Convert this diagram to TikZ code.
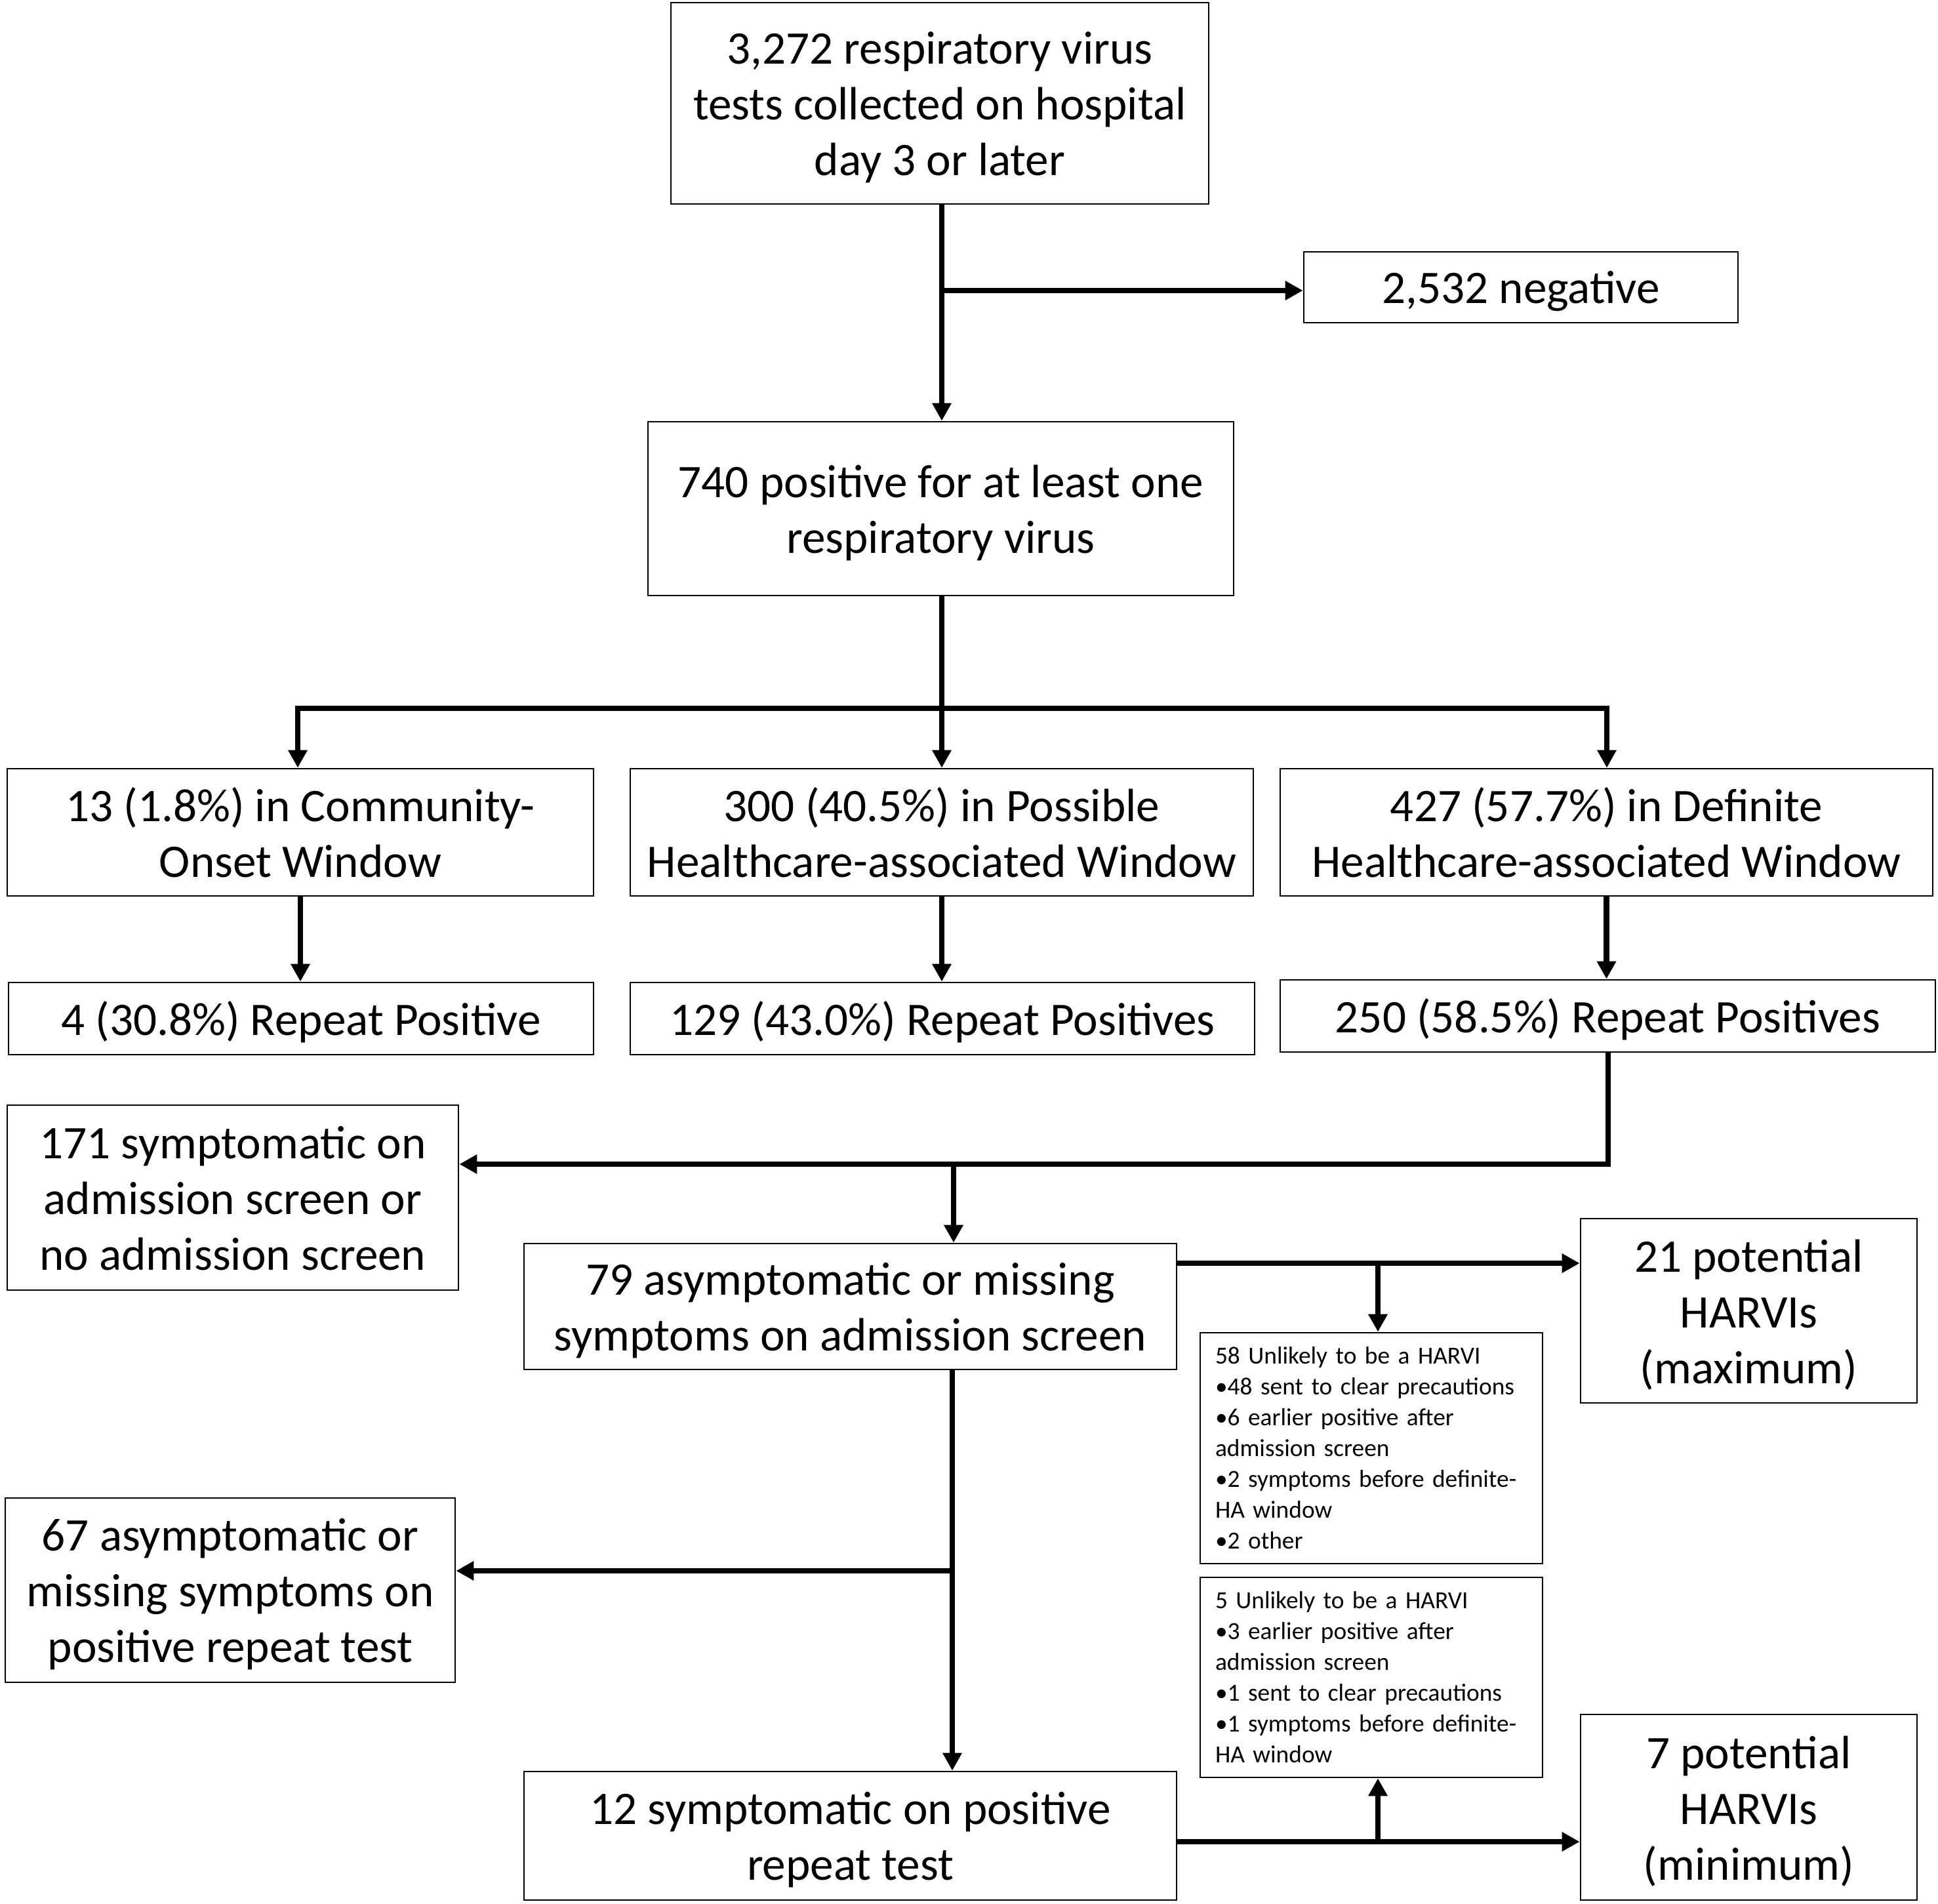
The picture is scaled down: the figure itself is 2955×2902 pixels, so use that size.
\documentclass[tikz,border=0pt]{standalone}
\usepackage{fontspec}
\setmainfont{Carlito}
\usetikzlibrary{arrows.meta}
\newcommand\ph{\vphantom{(}}
\newcommand\pt{\raisebox{0pt}[\dimexpr\height+2.4pt\relax]{\vphantom{(}}}
\begin{document}
\begin{tikzpicture}[x=0.25pt,y=-0.25pt,
  box/.style={draw, line width=0.7pt, inner sep=0pt, align=center, font=\fontsize{17.8}{21.25}\selectfont},
  note/.style={draw, line width=0.7pt, inner xsep=5.75pt, inner ysep=0pt, text width=119pt, align=left, font=\fontsize{9.35}{11.75}\selectfont},
  conn/.style={line width=2.1pt},
  arr/.style={conn, -{Triangle[length=6.75pt,width=7pt]}}]
\useasboundingbox (0,0) rectangle (2955,2902);

\node[box, minimum width=205pt, minimum height=76.75pt] (top) at (1433,157.5) {\pt3,272 respiratory virus\\tests collected on hospital\\\ph day 3 or later};
\node[box, minimum width=165.5pt, minimum height=27pt] (neg) at (2319,438) {\pt\ph2,532 negative};
\node[box, minimum width=223.25pt, minimum height=66.25pt] (pos) at (1434.5,775.5) {\pt740 positive for at least one\\\ph respiratory virus};
\node[box, minimum width=223.5pt, minimum height=48.5pt] (co) at (458,1269) {\pt13 (1.8\%) in Community-\\\ph Onset Window};
\node[box, minimum width=237.5pt, minimum height=48.5pt] (poss) at (1436,1269) {\pt300 (40.5\%) in Possible\\\ph Healthcare-associated Window};
\node[box, minimum width=248.75pt, minimum height=48.5pt] (def) at (2449.5,1269) {\pt427 (57.7\%) in Definite\\\ph Healthcare-associated Window};
\node[box, minimum width=223pt, minimum height=27.5pt] (rpa) at (459,1553) {\pt\ph4 (30.8\%) Repeat Positive};
\node[box, minimum width=238pt, minimum height=27.5pt] (rpb) at (1437,1553) {\pt\ph129 (43.0\%) Repeat Positives};
\node[box, minimum width=249.75pt, minimum height=27.5pt] (rpc) at (2451.5,1549) {\pt\ph250 (58.5\%) Repeat Positives};
\node[box, minimum width=172pt, minimum height=70.5pt] (s171) at (355,1826) {\pt171 symptomatic on\\admission screen or\\\ph no admission screen};
\node[box, minimum width=248.75pt, minimum height=48pt] (a79) at (1296.5,1992) {\pt79 asymptomatic or missing\\\ph symptoms on admission screen};
\node[box, minimum width=128.25pt, minimum height=70.25pt] (p21) at (2666.5,1998.5) {\pt21 potential\\HARVIs\\\ph(maximum)};
\node[note, minimum height=88pt] (u58) at (2091,2208) {58 Unlikely to be a HARVI\\\textbullet48 sent to clear precautions\\\textbullet6 earlier positive after\\admission screen\\\textbullet2 symptoms before definite-\\HA window\\\textbullet2 other};
\node[box, minimum width=171.5pt, minimum height=70.25pt] (a67) at (351,2424.5) {\pt67 asymptomatic or\\missing symptoms on\\\ph positive repeat test};
\node[note, minimum height=76.25pt] (u5) at (2091,2557.5) {5 Unlikely to be a HARVI\\\textbullet3 earlier positive after\\admission screen\\\textbullet1 sent to clear precautions\\\textbullet1 symptoms before definite-\\HA window};
\node[box, minimum width=248.75pt, minimum height=49pt] (s12) at (1296.5,2799) {\pt12 symptomatic on positive\\\ph repeat test};
\node[box, minimum width=128.25pt, minimum height=70.75pt] (p7) at (2666.5,2755.5) {\pt7 potential\\HARVIs\\\ph(minimum)};

\coordinate (c1) at (1436,443);
\draw[conn] (c1 |- top.south) -- (c1);
\draw[arr] (c1) -- (c1 |- pos.north);
\draw[arr] (c1) -- (c1 -| neg.west);

\coordinate (c2) at (1436,1080);
\coordinate (cL) at (454,1080);
\coordinate (cR) at (2450,1080);
\draw[conn] (c2 |- pos.south) -- (c2);
\draw[conn, line cap=rect] (cL) -- (cR);
\draw[arr] (cL) -- (cL |- co.north);
\draw[arr] (c2) -- (c2 |- poss.north);
\draw[arr] (cR) -- (cR |- def.north);

\draw[arr] (co.south) -- (co.south |- rpa.north);
\draw[arr] (poss.south) -- (poss.south |- rpb.north);
\draw[arr] (def.south) -- (def.south |- rpc.north);

\coordinate (c3) at (2452,1775);
\coordinate (c4) at (1454,1775);
\draw[arr, line join=miter] (c3 |- rpc.south) -- (c3) -- (c3 -| s171.east);
\draw[arr] (c4) -- (c4 |- a79.north);

\coordinate (c5) at (2101,1926);
\draw[arr] (c5 -| a79.east) -- (c5 -| p21.west);
\draw[arr] (c5) -- (c5 |- u58.north);

\coordinate (c6) at (1452,2395);
\draw[arr] (c6 |- a79.south) -- (c6 |- s12.north);
\draw[arr] (c6) -- (c6 -| a67.east);

\coordinate (c7) at (2101,2808);
\draw[arr] (c7 -| s12.east) -- (c7 -| p7.west);
\draw[arr] (c7) -- (c7 |- u5.south);
\end{tikzpicture}
\end{document}
